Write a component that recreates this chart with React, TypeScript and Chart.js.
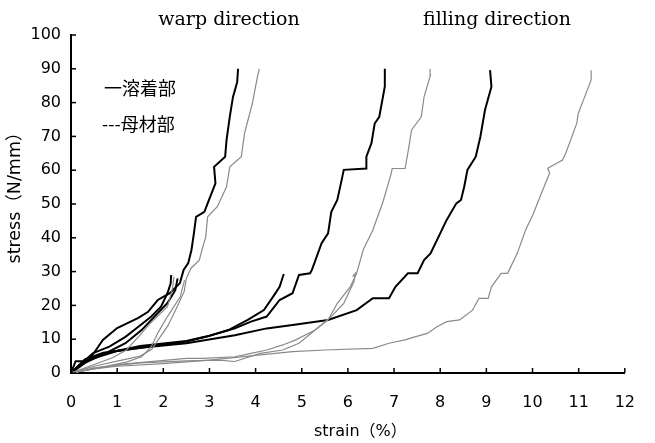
import React, { useEffect, useRef } from "react";
import { Chart, registerables } from "chart.js";

Chart.register(...registerables);

type P = { x: number; y: number };
const pts = (xs: number[], ys: number[]): P[] => xs.map((x, i) => ({ x, y: ys[i] }));

// ---- Warp direction ----
const warpWeldA_x = [0, 0.1, 0.35, 0.5, 0.69, 1.0, 1.46, 1.67, 1.88, 2.15, 2.36, 2.44, 2.54, 2.61, 2.66, 2.71, 2.89, 2.99, 3.13, 3.1, 3.34, 3.37, 3.44, 3.51, 3.6, 3.62];
const warpWeldA_y = [0, 3.5, 3.5, 6, 9.8, 13.3, 16.3, 18.1, 21.6, 23.7, 26.6, 30.5, 32.5, 36.4, 41, 46.2, 47.7, 51.2, 56.1, 61, 64, 68.9, 75.8, 81.7, 86, 90];
const warpWeldB_x = [0, 0.2, 0.48, 0.83, 1.18, 1.46, 1.74, 1.95, 2.09, 2.16, 2.17];
const warpWeldB_y = [0, 2.5, 5.9, 7.8, 10.7, 13.7, 16.7, 19.6, 23.6, 26.5, 29];
const warpWeldC_x = [0, 0.3, 0.7, 1.18, 1.53, 1.88, 2.09, 2.26, 2.31];
const warpWeldC_y = [0, 3, 5.5, 8.8, 12.7, 17.7, 20.7, 24.5, 28];
const warpBaseA_x = [0, 0.5, 1.0, 1.5, 1.75, 1.9, 2.1, 2.3, 2.45, 2.5, 2.6, 2.78, 2.85, 2.92, 2.96, 3.17, 3.37, 3.44, 3.69, 3.76, 3.93, 4.04, 4.08];
const warpBaseA_y = [0, 2, 3.5, 5, 7, 10, 14, 19.6, 24, 28, 31, 33.4, 37, 40.3, 46.2, 49.2, 55.1, 61, 64, 70.9, 79.8, 87.7, 90];
const warpBaseB_x = [0, 0.4, 0.9, 1.2, 1.46, 1.7, 2.09, 2.2, 2.23];
const warpBaseB_y = [0, 2, 4.5, 6.8, 10.7, 14.5, 19.6, 25, 28.5];
const warpBaseC_x = [0, 0.6, 1.2, 1.53, 1.74, 1.88, 2.09, 2.37, 2.46];
const warpBaseC_y = [0, 1.5, 3.2, 4.8, 7.8, 11.8, 16.7, 22.6, 27.5];

// ---- Filling direction ----
const fillWeldA_x = [0, 0.3, 0.8, 1.5, 2.5, 3.0, 3.55, 3.9, 4.24, 4.52, 4.8, 4.94, 5.18, 5.22, 5.43, 5.57, 5.64, 5.77, 5.88, 5.91, 6.4, 6.4, 6.51, 6.58, 6.68, 6.8, 6.8];
const fillWeldA_y = [0, 3.5, 6, 8, 9.5, 11, 13.2, 15.2, 16.7, 21.6, 23.6, 29, 29.5, 30.5, 38.4, 41.3, 47.7, 51.2, 58.1, 60.1, 60.5, 64, 68, 73.8, 75.8, 84.8, 90];
const fillWeldB_x = [0, 0.4, 1.0, 1.8, 2.5, 2.92, 3.41, 3.83, 4.18, 4.38, 4.52, 4.61];
const fillWeldB_y = [0, 4, 6.5, 8, 9.3, 10.7, 12.7, 15.7, 18.6, 22.6, 25.5, 29.3];
const fillWeldC_x = [0, 0.3, 0.7, 1.5, 2.5, 3.55, 4.24, 4.8, 5.57, 6.19, 6.54, 6.89, 7.03, 7.3, 7.51, 7.65, 7.79, 8.0, 8.14, 8.35, 8.45, 8.52, 8.59, 8.77, 8.87, 8.97, 9.11, 9.08];
const fillWeldC_y = [0, 4, 6, 7.5, 8.8, 11.2, 13.2, 14.2, 15.7, 18.6, 22.1, 22.1, 25.5, 29.5, 29.5, 33.4, 35.4, 41.3, 45.3, 50.2, 51.2, 55.1, 60.1, 64, 69.9, 77.8, 84.7, 89.6];
const fillBaseA_x = [0, 0.5, 1.5, 2.5, 3.2, 3.55, 4.1, 4.59, 4.94, 5.29, 5.57, 5.77, 6.05, 6.19, 6.33, 6.54, 6.75, 6.92, 6.96, 7.24, 7.31, 7.38, 7.59, 7.65, 7.79, 7.78];
const fillBaseA_y = [0, 1.5, 3, 3.6, 3.8, 3.4, 5.8, 6.8, 8.8, 12.7, 15.7, 20.6, 25.5, 29.5, 36.4, 42.3, 50.2, 58.1, 60.5, 60.5, 66, 71.9, 75.8, 81.7, 88.2, 90];
const fillBaseB_x = [0, 1.0, 2.5, 2.85, 3.55, 3.9, 4.24, 4.59, 4.87, 5.29, 5.64, 5.91, 6.13, 6.16, 6.1];
const fillBaseB_y = [0, 2.5, 4.3, 4.3, 4.8, 5.8, 6.8, 8.3, 9.8, 12.7, 16.7, 20.6, 27, 29.5, 28.5];
const fillBaseC_x = [0, 0.5, 1.0, 2.0, 3.0, 4.0, 4.8, 5.5, 6.54, 6.89, 7.24, 7.45, 7.72, 7.93, 8.14, 8.42, 8.7, 8.84, 9.04, 9.11, 9.32, 9.46, 9.67, 9.85, 10.02, 10.19, 10.37, 10.33, 10.65, 10.72, 10.96, 10.99, 11.13, 11.27, 11.27];
const fillBaseC_y = [0, 1.2, 2, 2.8, 3.8, 5.2, 6.3, 6.8, 7.3, 8.8, 9.8, 10.7, 11.7, 13.7, 15.2, 15.7, 18.6, 22.1, 22.1, 25.5, 29.5, 29.5, 35.4, 42.3, 47.2, 53.1, 59.1, 60.6, 63, 65, 73.9, 76.8, 81.7, 86.7, 89.6];

const xTickMax = 12;
const yTickMax = 100;
const titleWarp = "warp direction";
const titleFill = "filling direction";
const legendWeld = "一溶着部";
const legendBase = "---母材部";
const xTitle = "strain（%）";
const yTitle = "stress（N/mm）";

const BLACK = "#000000";
const GRAY = "#8a8a8a";

export default function App() {
  const ref = useRef<HTMLCanvasElement | null>(null);
  useEffect(() => {
    if (!ref.current) return;
    const weld = (d: P[]) => ({ data: d, borderColor: BLACK, borderWidth: 2, pointRadius: 0, tension: 0, fill: false });
    const base = (d: P[]) => ({ data: d, borderColor: GRAY, borderWidth: 1.2, pointRadius: 0, tension: 0, fill: false });
    const datasets = [
      base(pts(warpBaseA_x, warpBaseA_y)),
      base(pts(warpBaseB_x, warpBaseB_y)),
      base(pts(warpBaseC_x, warpBaseC_y)),
      base(pts(fillBaseA_x, fillBaseA_y)),
      base(pts(fillBaseB_x, fillBaseB_y)),
      base(pts(fillBaseC_x, fillBaseC_y)),
      weld(pts(warpWeldA_x, warpWeldA_y)),
      weld(pts(warpWeldB_x, warpWeldB_y)),
      weld(pts(warpWeldC_x, warpWeldC_y)),
      weld(pts(fillWeldA_x, fillWeldA_y)),
      weld(pts(fillWeldB_x, fillWeldB_y)),
      weld(pts(fillWeldC_x, fillWeldC_y)),
    ];
    const textPlugin = {
      id: "texts",
      afterDraw(chart: any) {
        const ctx = chart.ctx;
        const xs = chart.scales.x;
        const ys = chart.scales.y;
        ctx.save();
        // inward tick marks
        ctx.strokeStyle = "#000";
        ctx.lineWidth = 1.5;
        for (let v = 0; v <= xTickMax; v++) {
          const px = xs.getPixelForValue(v);
          ctx.beginPath();
          ctx.moveTo(px, ys.bottom);
          ctx.lineTo(px, ys.bottom - 5);
          ctx.stroke();
        }
        for (let v = 0; v <= yTickMax; v += 10) {
          const py = ys.getPixelForValue(v);
          ctx.beginPath();
          ctx.moveTo(xs.left, py);
          ctx.lineTo(xs.left + 5, py);
          ctx.stroke();
        }
        ctx.fillStyle = "#000";
        ctx.textAlign = "center";
        ctx.textBaseline = "alphabetic";
        ctx.font = "19px 'DejaVu Serif'";
        ctx.fillText(titleWarp, 229, 25);
        ctx.fillText(titleFill, 497, 25);
        ctx.textAlign = "left";
        ctx.textBaseline = "middle";
        ctx.font = "18px 'Noto Sans CJK JP'";
        ctx.fillText(legendWeld, 104, 88);
        ctx.fillText(legendBase, 102, 124);
        // x title
        ctx.font = "16px 'DejaVu Sans', 'Noto Sans CJK JP'";
        ctx.textAlign = "left";
        ctx.fillText(xTitle, 314, 432);
        // y title
        ctx.translate(15, 197);
        ctx.rotate(-Math.PI / 2);
        ctx.textAlign = "center";
        ctx.font = "17.5px 'DejaVu Sans', 'Noto Sans CJK JP'";
        ctx.fillText(yTitle, 3.5, 0);
        ctx.restore();
      },
    };
    const chart = new Chart(ref.current, {
      type: "line",
      data: { datasets: datasets as any },
      options: {
        animation: false,
        responsive: true,
        maintainAspectRatio: false,
        layout: { padding: { top: 35, right: 10, left: 0, bottom: 0 } },
        plugins: { legend: { display: false }, tooltip: { enabled: false } },
        scales: {
          x: {
            type: "linear",
            min: 0,
            max: xTickMax,
            grid: { display: false, drawTicks: false },
            border: { display: true, color: "#000", width: 2 },
            ticks: { stepSize: 1, color: "#000", padding: 20, maxRotation: 0, font: { family: "'DejaVu Sans'", size: 16 } },
            afterFit: (s: any) => { s.height = 70; },
          },
          y: {
            type: "linear",
            min: 0,
            max: yTickMax,
            grid: { display: false, drawTicks: false },
            border: { display: true, color: "#000", width: 2 },
            ticks: { stepSize: 10, color: "#000", padding: 10, font: { family: "'DejaVu Sans'", size: 16 } },
            afterFit: (s: any) => { s.width = 71; },
          },
        },
      },
      plugins: [textPlugin],
    });
    return () => chart.destroy();
  }, []);
  return (
    <div style={{ position: "fixed", left: 0, top: 0, width: 655, height: 443, background: "#fff" }}>
      <canvas ref={ref} />
    </div>
  );
}
